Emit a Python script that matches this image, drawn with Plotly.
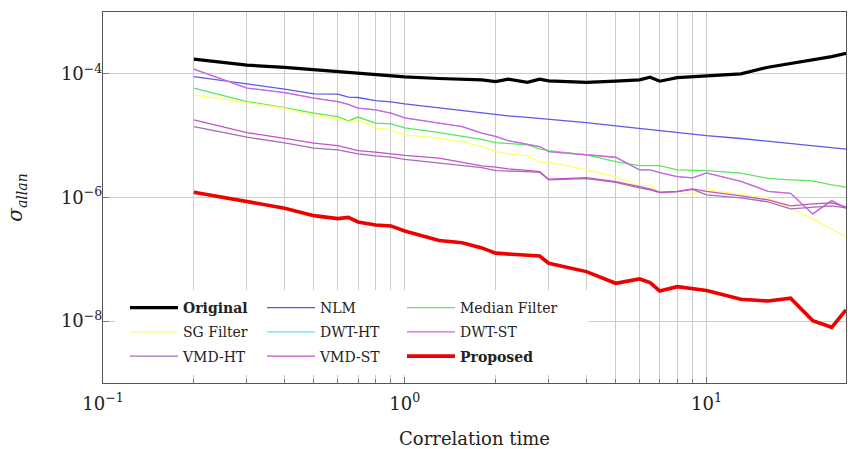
import math
import plotly.graph_objects as go

# correlation time (s)
tau = [0.2, 0.3, 0.4, 0.5, 0.6, 0.65, 0.7, 0.8, 0.9, 1.0,
       1.3, 1.55, 1.8, 2.0, 2.2, 2.55, 2.8, 3.0,
       4.0, 5.0, 6.0, 6.5, 7.0, 8.0, 9.0, 10,
       13, 16, 19, 22.5, 26, 29]

original = [1.73e-4, 1.38e-4, 1.27e-4, 1.16e-4, 1.08e-4, 1.05e-4, 1.02e-4, 9.5e-5, 9.3e-5, 8.9e-5,
            8.4e-5, 8.2e-5, 8.0e-5, 7.5e-5, 8.2e-5, 7.3e-5, 8.2e-5, 7.7e-5,
            7.3e-5, 7.6e-5, 8.0e-5, 8.8e-5, 7.6e-5, 8.7e-5, 9.0e-5, 9.3e-5,
            1.0e-4, 1.28e-4, 1.48e-4, 1.68e-4, 1.9e-4, 2.15e-4]

nlm = [9.04e-5, 6.89e-5, 5.65e-5, 4.74e-5, 4.7e-5, 4.2e-5, 4.14e-5, 3.7e-5, 3.52e-5, 3.27e-5,
       2.82e-5, 2.57e-5, 2.36e-5, 2.19e-5, 2.09e-5, 1.98e-5, 1.9e-5, 1.87e-5,
       1.63e-5, 1.44e-5, 1.3e-5, 1.26e-5, 1.22e-5, 1.12e-5, 1.06e-5, 1.0e-5,
       9.0e-6, 8.1e-6, 7.5e-6, 6.83e-6, 6.35e-6, 6.05e-6]

median_filter = [5.87e-5, 3.56e-5, 2.85e-5, 2.31e-5, 2.04e-5, 1.73e-5, 2.0e-5, 1.59e-5, 1.55e-5, 1.34e-5,
                 1.12e-5, 9.75e-6, 8.7e-6, 7.73e-6, 7.5e-6, 7.1e-6, 6.1e-6, 5.74e-6,
                 4.89e-6, 3.81e-6, 3.28e-6, 3.28e-6, 3.28e-6, 2.8e-6, 2.75e-6, 2.72e-6,
                 2.47e-6, 2.04e-6, 1.93e-6, 1.86e-6, 1.6e-6, 1.47e-6]

sg_filter = [4.57e-5, 3.48e-5, 2.79e-5, 2.11e-5, 1.87e-5, 1.69e-5, 1.8e-5, 1.32e-5, 1.24e-5, 1.03e-5,
             9.12e-6, 7.94e-6, 6.67e-6, 5.53e-6, 5.08e-6, 4.71e-6, 3.72e-6, 3.72e-6,
             2.8e-6, 2.18e-6, 1.5e-6, 1.6e-6, 1.17e-6, 1.17e-6, 1.14e-6, 1.34e-6,
             1.12e-6, 9.75e-7, 6.71e-7, 4.51e-7, 3.1e-7, 2.3e-7]

dwt_st = [1.19e-4, 5.87e-5, 4.98e-5, 4.05e-5, 3.56e-5, 3.2e-5, 2.79e-5, 2.61e-5, 2.31e-5, 1.94e-5,
          1.59e-5, 1.4e-5, 1.1e-5, 9.7e-6, 8.34e-6, 7.36e-6, 6.67e-6, 5.53e-6,
          4.89e-6, 4.48e-6, 2.8e-6, 2.8e-6, 2.53e-6, 2.18e-6, 2.07e-6, 2.5e-6,
          1.82e-6, 1.26e-6, 1.17e-6, 5.43e-7, 8.9e-7, 6.71e-7]

dwt_ht = list(dwt_st)  # hidden underneath DWT-ST in the reference

vmd_st = [1.8e-5, 1.12e-5, 9.04e-6, 7.57e-6, 6.92e-6, 6.35e-6, 5.74e-6, 5.4e-6, 5.08e-6, 4.8e-6,
          4.32e-6, 3.7e-6, 3.24e-6, 3.09e-6, 2.9e-6, 2.75e-6, 2.62e-6, 1.98e-6,
          2.1e-6, 1.81e-6, 1.47e-6, 1.38e-6, 1.22e-6, 1.25e-6, 1.38e-6, 1.26e-6,
          1.06e-6, 9.14e-7, 7.31e-7, 7.9e-7, 8.18e-7, 7.05e-7]

vmd_ht = [1.4e-5, 9.46e-6, 7.64e-6, 6.28e-6, 5.89e-6, 5.5e-6, 5.08e-6, 4.7e-6, 4.49e-6, 4.14e-6,
          3.59e-6, 3.3e-6, 3.05e-6, 2.72e-6, 2.7e-6, 2.63e-6, 2.55e-6, 1.93e-6,
          2.02e-6, 1.75e-6, 1.43e-6, 1.33e-6, 1.2e-6, 1.24e-6, 1.35e-6, 1.1e-6,
          9.86e-7, 8.5e-7, 6.55e-7, 7.05e-7, 7.3e-7, 6.8e-7]

proposed = [1.22e-6, 8.59e-7, 6.71e-7, 5.09e-7, 4.56e-7, 4.77e-7, 4.03e-7, 3.6e-7, 3.47e-7, 2.88e-7,
            2.02e-7, 1.86e-7, 1.53e-7, 1.26e-7, 1.22e-7, 1.18e-7, 1.13e-7, 8.65e-8,
            6.33e-8, 4.1e-8, 4.82e-8, 4.2e-8, 3.08e-8, 3.61e-8, 3.32e-8, 3.14e-8,
            2.26e-8, 2.12e-8, 2.35e-8, 1.02e-8, 7.96e-9, 1.52e-8]

x_ticks = [0.1, 1, 10]
x_ticktext = ["10<sup>−1</sup>", "10<sup>0</sup>", "10<sup>1</sup>"]
x_minor = [0.2, 0.3, 0.4, 0.5, 0.6, 0.7, 0.8, 0.9, 2, 3, 4, 5, 6, 7, 8, 9]
y_ticks = [1e-8, 1e-6, 1e-4]
y_ticktext = ["10<sup>−8</sup>", "10<sup>−6</sup>", "10<sup>−4</sup>"]

FONT = "DejaVu Serif"

# (name, values, colour, width, legend, rank)
series = [
    ("<b>Original</b>", original, "#000000", 3.2, "legend", 1),
    ("NLM", nlm, "#5a5ae6", 1.3, "legend2", 1),
    ("Median Filter", median_filter, "#5ae65a", 1.3, "legend3", 1),
    ("SG Filter", sg_filter, "#ffff66", 1.3, "legend", 2),
    ("DWT-HT", dwt_ht, "#66e6e6", 1.3, "legend2", 2),
    ("DWT-ST", dwt_st, "#e05ae0", 1.3, "legend3", 2),
    ("VMD-HT", vmd_ht, "#a070b0", 1.3, "legend", 3),
    ("VMD-ST", vmd_st, "#c850c8", 1.3, "legend2", 3),
    ("<b>Proposed</b>", proposed, "#ee0000", 3.6, "legend3", 3),
]

fig = go.Figure()
for name, vals, col, w, leg, rank in series:
    fig.add_trace(go.Scatter(
        x=tau, y=vals, mode="lines", name=name,
        line=dict(color=col, width=w),
        legend=leg, legendgroup=name, legendrank=rank,
    ))

grid = "#cccccc"
axis_common = dict(
    type="log", showline=True, linecolor="#555555", linewidth=1, mirror=True,
    ticks="inside", ticklen=6, tickcolor="#777777",
    showgrid=True, gridcolor=grid, gridwidth=1,
    tickfont=dict(family=FONT, size=18, color="#222222"),
    zeroline=False, automargin=False,
)

fig.update_layout(
    width=848, height=449,
    margin=dict(l=103, r=2, t=12, b=66, autoexpand=False),
    paper_bgcolor="white", plot_bgcolor="white",
    font=dict(family=FONT, color="#222222"),
    xaxis=dict(
        **axis_common,
        range=[-1, math.log10(29)],
        tickmode="array", tickvals=x_ticks, ticktext=x_ticktext,
        ticklabelstandoff=4,
        minor=dict(tickmode="array", tickvals=x_minor, ticks="inside", ticklen=4,
                   tickcolor="#777777", showgrid=True, gridcolor=grid, gridwidth=1),
        title=dict(text="Correlation time", font=dict(family=FONT, size=18), standoff=20),
    ),
    yaxis=dict(
        **axis_common,
        range=[-9, -3],
        tickmode="array", tickvals=y_ticks, ticktext=y_ticktext,
        ticklabelstandoff=-4,
        title=dict(text="<i>σ</i><sub><i>allan</i></sub>", font=dict(family=FONT, size=20), standoff=32),
    ),
    shapes=[dict(type="rect", xref="paper", yref="paper", x0=0.016, x1=0.653,
                 y0=0.0216, y1=0.2507, fillcolor="white", line=dict(width=0), layer="above")],
    showlegend=True,
)

leg_common = dict(bgcolor="rgba(0,0,0,0)", borderwidth=0, font=dict(family=FONT, size=14, color="#222222"),
                  itemwidth=48, tracegroupgap=3, yanchor="top", xanchor="left", y=0.245)
fig.update_layout(
    legend=dict(**leg_common, x=0.0296),
    legend2=dict(**leg_common, x=0.214),
    legend3=dict(**leg_common, x=0.4024),
)

# remove the default 8px page margin so the figure fills the window exactly
fig.write_html("out.html", config={"displayModeBar": False},
               post_script="document.body.style.margin='0';")
